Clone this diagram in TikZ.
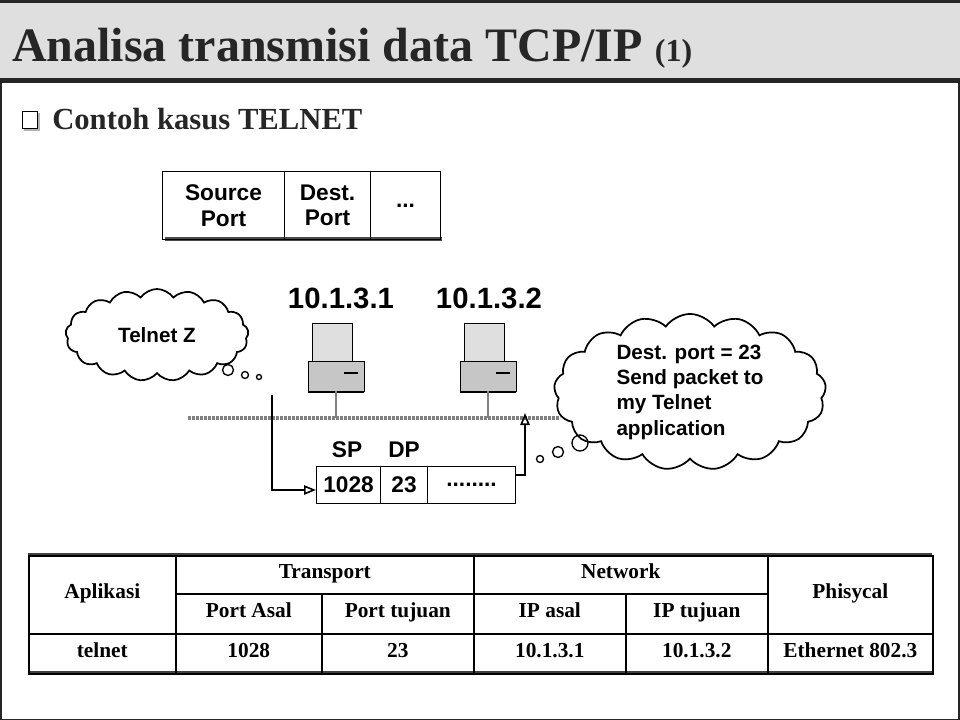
\documentclass[tikz,border=0pt]{standalone}
\usepackage{fontspec}
\setmainfont{Liberation Serif}
\setsansfont{Liberation Sans}
\usetikzlibrary{shapes.symbols,arrows.meta,patterns}
\begin{document}
\begin{tikzpicture}[x=0.75pt,y=-0.75pt,
  cell/.style={draw,line width=0.8pt,minimum height=0.75*#1,inner sep=0pt},
  sfont/.style={font=\sffamily\bfseries\fontsize{17}{19}\selectfont},
  tcell/.style={draw,line width=1.2pt,inner sep=0pt,text height=0.72em,text depth=0.22em,font=\bfseries\fontsize{16}{18}\selectfont},
  bubble/.style={draw,line width=1pt,circle,inner sep=0pt},
  thought/.style={cloud,cloud puffs=17,cloud puff arc=110,draw,line width=1.3pt,aspect=2,inner sep=0pt},
  pc/.style={draw,line width=0.6pt,fill=gray!25}]
\useasboundingbox (0,0) rectangle (960,720);
\fill[white] (0,0) rectangle (960,720);
\draw[line width=2pt,black!85] (1,0) rectangle (959,720);
% title bar
\fill[gray!25] (0,3) rectangle (960,79);
\fill[black!85] (0,0) rectangle (960,3);
\fill[black!85] (0,78) rectangle (960,83);
\node[anchor=base west,inner sep=0pt,text=black!85] (title) at (12,62)
  {\bfseries\fontsize{36}{38}\selectfont Analisa transmisi data TCP/IP {\fontsize{24}{26}\selectfont(1)}};
% subtitle
\fill[gray!60] (24,113) rectangle (40,131);
\draw[fill=white,line width=0.5pt] (22,111) rectangle (37,128);
\node[anchor=base west,inner sep=0pt,text=black!85] (sub) at (52,130)
  {\bfseries\fontsize{23}{25}\selectfont Contoh kasus TELNET};
% header box
\fill[black!70] (165,237) rectangle (442,241);
\node[cell=68pt,minimum width=0.75*122pt,anchor=north west,align=center,sfont] (sp) at (162,171) {Source\\Port};
\node[cell=68pt,minimum width=0.75*86pt,anchor=north west,align=center,sfont] (dp) at (284,171) {Dest.\\Port};
\node[cell=68pt,minimum width=0.75*70pt,anchor=north west,sfont] (dots) at (370,171) {...};
% IP labels
\node[font=\sffamily\bfseries\fontsize{22}{24}\selectfont] (ip1) at (341,298) {10.1.3.1};
\node[font=\sffamily\bfseries\fontsize{22}{24}\selectfont] (ip2) at (489,298) {10.1.3.2};
% computers
\foreach \n/\cx in {c1/336,c2/488}{
  \node[pc,minimum width=0.75*40pt,minimum height=0.75*38pt,inner sep=0pt] (\n m) at (\cx-4,342) {};
  \node[pc,fill=gray!45,minimum width=0.75*56pt,minimum height=0.75*30pt,inner sep=0pt] (\n k) at (\cx,376) {};
  \draw[line width=2pt] (\cx-28,392) -- (\cx+28,392);
  \draw[line width=1.5pt] (\cx+8,373) -- (\cx+22,373);
}
% network
\coordinate (nl) at (188,418);
\coordinate (nr) at (560,418);
\draw[gray,line width=3pt,dash pattern=on 2pt off 1pt] (nl) -- (nr);
\draw[gray,line width=0.8pt] (c1k.south) -- (c1k.south |- nl);
\draw[gray,line width=0.8pt] (c2k.south) -- (c2k.south |- nl);
% packet
\node[cell=37pt,minimum width=0.75*64pt,anchor=north west,sfont] (p1) at (316,466) {1028};
\node[cell=37pt,minimum width=0.75*47pt,anchor=north west,sfont] (p2) at (380,466) {23};
\node[cell=37pt,minimum width=0.75*88pt,anchor=north west,sfont] (p3) at (427,466) {........};
\node[sfont] (splab) at (347,450) {SP};
\node[sfont] (dplab) at (404,450) {DP};
% arrows
\coordinate (a0) at (272,395);
\draw[line width=1.2pt,-{Triangle[open,length=9pt,width=7pt]}] (a0) |- (p1.west |- 0,490);
\coordinate (a1) at (525,413);
\draw[line width=1.2pt,-{Triangle[open,length=9pt,width=7pt]}] (p3.east |- 0,475) -| (a1);
% clouds
\node[thought,minimum width=0.75*183pt,minimum height=0.75*92pt,font=\sffamily\bfseries\fontsize{15.5}{17}\selectfont] (cl) at (157,335) {Telnet Z};
\node[bubble,minimum size=0.75*11pt] (b1) at (228,370) {};
\node[bubble,minimum size=0.75*7pt] (b2) at (245,375) {};
\node[bubble,minimum size=0.75*5pt] (b3) at (259,377) {};
\node[thought,minimum width=0.75*272pt,minimum height=0.75*152pt,aspect=1.5,align=left,font=\sffamily\bfseries\fontsize{15.5}{19}\selectfont] (cr) at (690,392)
  {Dest. port = 23\\Send packet to\\my Telnet\\application};
\node[bubble,minimum size=0.75*7pt] (r1) at (540,459) {};
\node[bubble,minimum size=0.75*11pt] (r2) at (558,452) {};
\node[bubble,minimum size=0.75*16pt] (r3) at (580,443) {};
% table
\fill[black!75] (28,553) rectangle (932,557);
\fill[black!75] (28,671) rectangle (932,675);
\node[tcell,minimum width=0.75*147pt,minimum height=0.75*78pt,anchor=north west] (t1) at (28,555) {Aplikasi};
\node[tcell,minimum width=0.75*298pt,minimum height=0.75*38pt,anchor=north west] (t2) at (175,555) {Transport};
\node[tcell,minimum width=0.75*294pt,minimum height=0.75*38pt,anchor=north west] (t3) at (473,555) {Network};
\node[tcell,minimum width=0.75*165pt,minimum height=0.75*78pt,anchor=north west] (t4) at (767,555) {Phisycal};
\node[tcell,minimum width=0.75*146pt,minimum height=0.75*40pt,anchor=north west] (t5) at (175,593) {Port Asal};
\node[tcell,minimum width=0.75*152pt,minimum height=0.75*40pt,anchor=north west] (t6) at (321,593) {Port tujuan};
\node[tcell,minimum width=0.75*152pt,minimum height=0.75*40pt,anchor=north west] (t7) at (473,593) {IP asal};
\node[tcell,minimum width=0.75*142pt,minimum height=0.75*40pt,anchor=north west] (t8) at (625,593) {IP tujuan};
\node[tcell,minimum width=0.75*147pt,minimum height=0.75*40pt,anchor=north west] (u1) at (28,633) {telnet};
\node[tcell,minimum width=0.75*146pt,minimum height=0.75*40pt,anchor=north west] (u2) at (175,633) {1028};
\node[tcell,minimum width=0.75*152pt,minimum height=0.75*40pt,anchor=north west] (u3) at (321,633) {23};
\node[tcell,minimum width=0.75*152pt,minimum height=0.75*40pt,anchor=north west] (u4) at (473,633) {10.1.3.1};
\node[tcell,minimum width=0.75*142pt,minimum height=0.75*40pt,anchor=north west] (u5) at (625,633) {10.1.3.2};
\node[tcell,minimum width=0.75*165pt,minimum height=0.75*40pt,anchor=north west] (u6) at (767,633) {Ethernet 802.3};
\end{tikzpicture}
\end{document}
